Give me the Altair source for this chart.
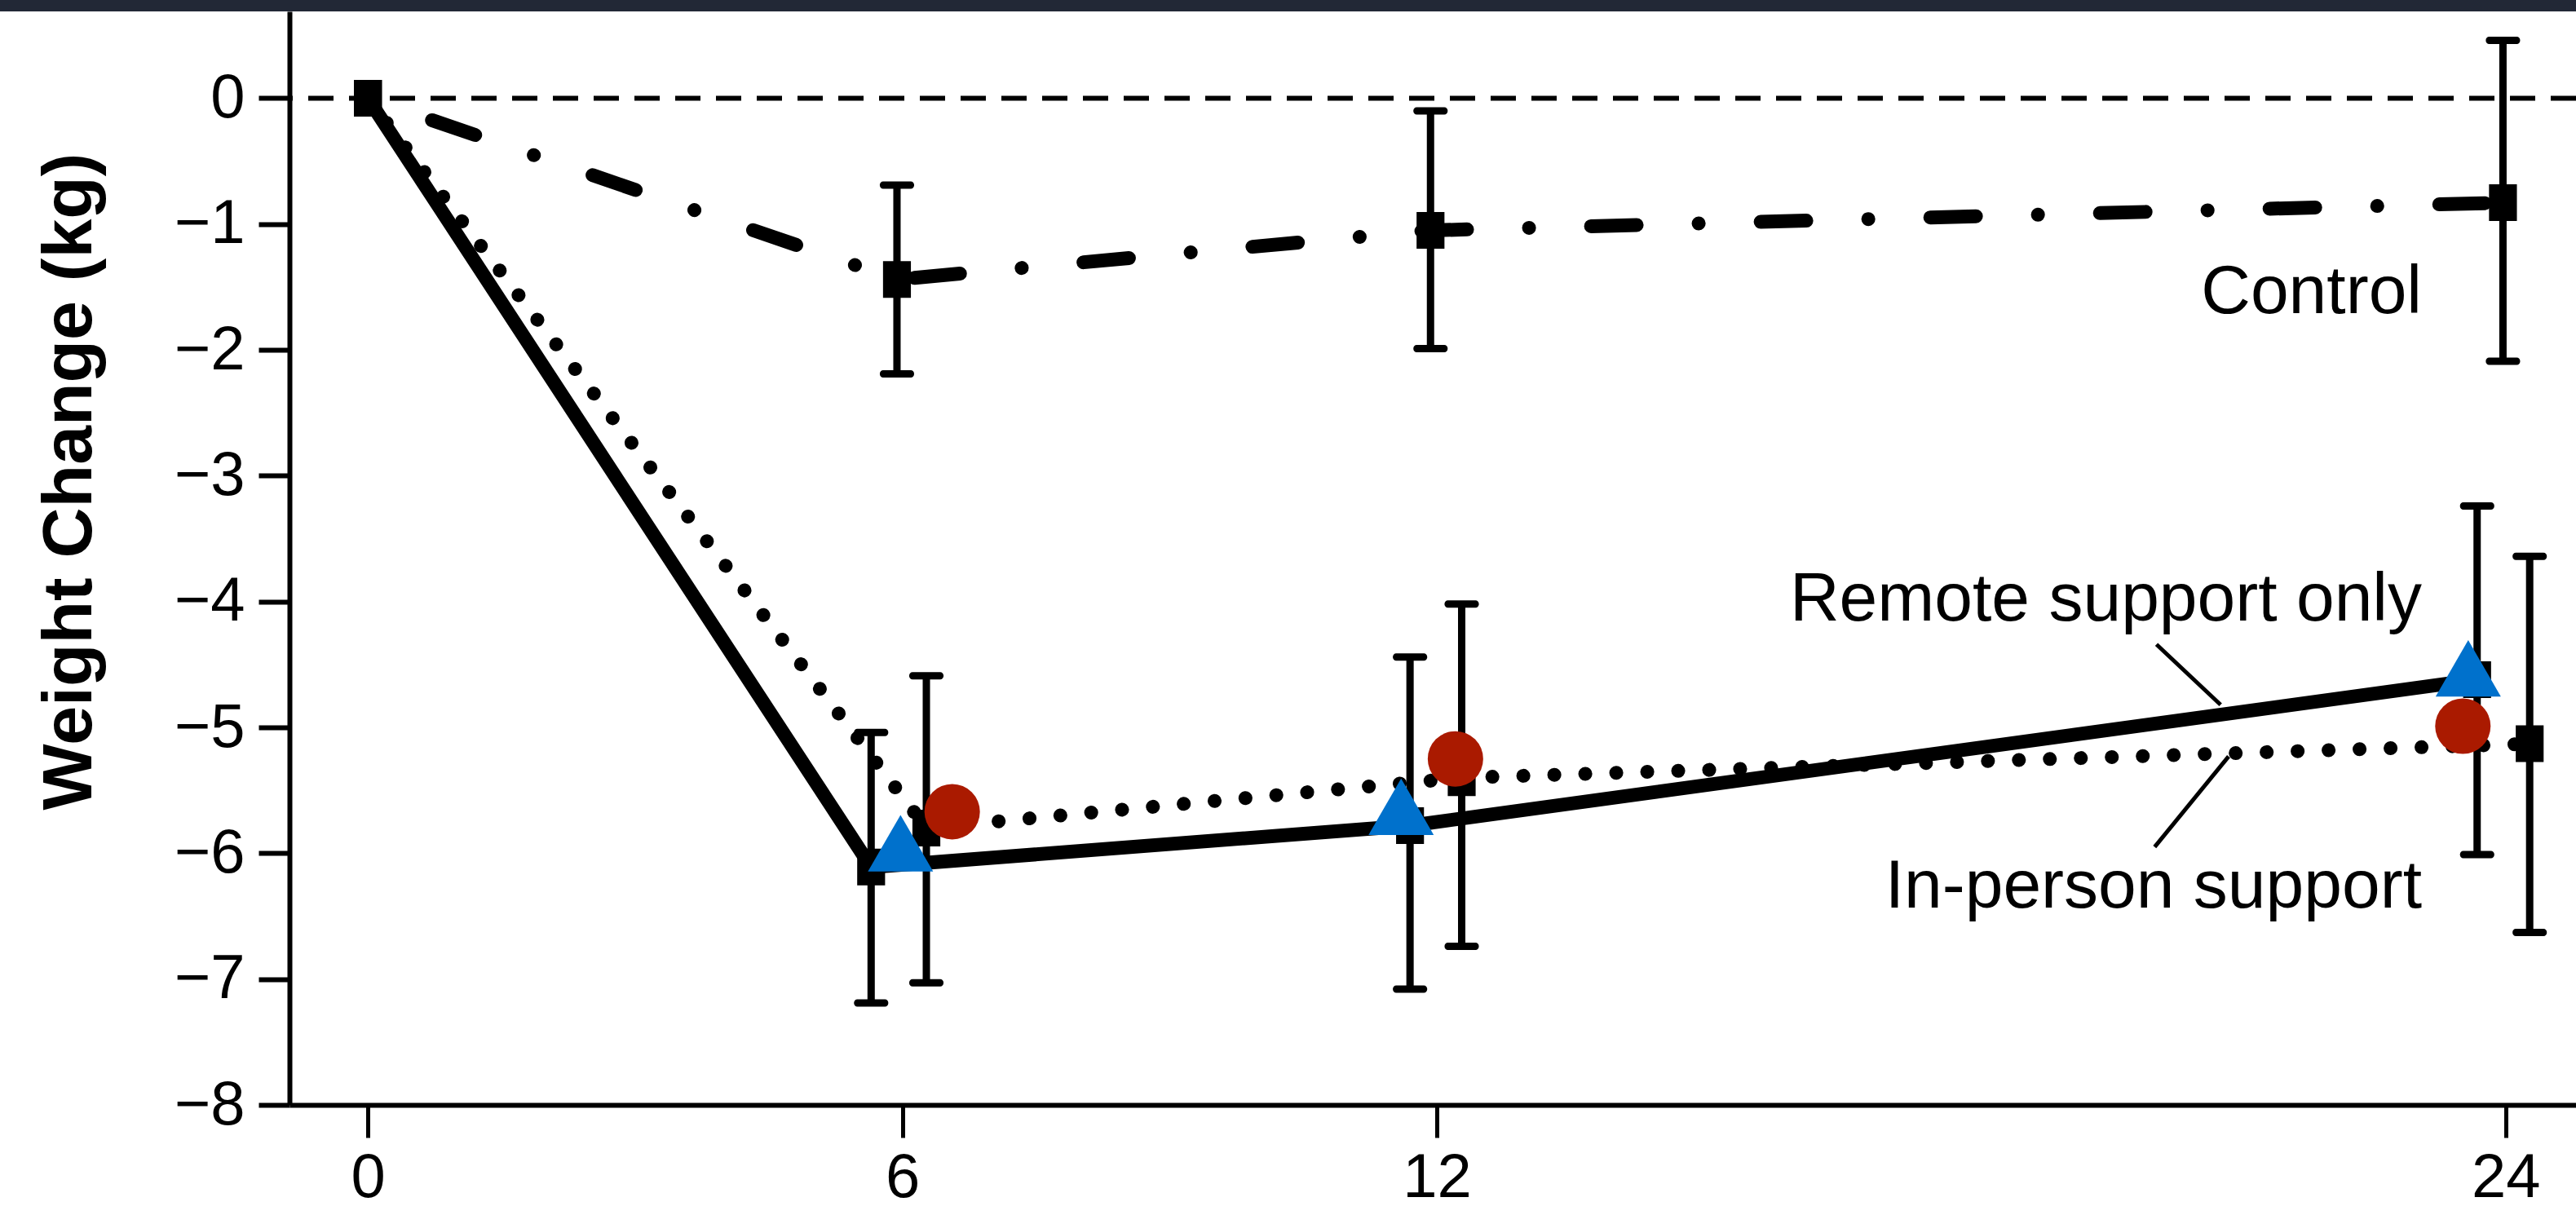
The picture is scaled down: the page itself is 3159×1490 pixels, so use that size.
import altair as alt
import pandas as pd

# ---------------- data ----------------
x_tick_values = [0, 6, 12, 24]
y_tick_values = [-8, -7, -6, -5, -4, -3, -2, -1, 0]

# Control (dash-dot line, black squares)
ctrl_x = [0, 5.94, 11.93, 23.97]
ctrl_mean = [0, -1.44, -1.05, -0.83]
ctrl_lo = [None, -2.19, -1.99, -2.09]
ctrl_hi = [None, -0.69, -0.10, 0.46]

# Remote support only (solid line)
remote_x = [0, 5.65, 11.70, 23.68]
remote_mean = [0, -6.11, -5.78, -4.62]
remote_lo = [None, -7.19, -7.08, -6.01]
remote_hi = [None, -5.04, -4.44, -3.24]

# In-person support (dotted line)
inperson_x = [0, 6.27, 12.28, 24.27]
inperson_mean = [0, -5.80, -5.40, -5.13]
inperson_lo = [None, -7.03, -6.74, -6.63]
inperson_hi = [None, -4.59, -4.02, -3.64]

# Overlaid coloured markers
tri_x = [5.98, 11.60, 23.58]
tri_y = [-5.92, -5.63, -4.53]
circ_x = [6.56, 12.21, 23.52]
circ_y = [-5.67, -5.25, -4.99]

# Annotations
label_text = ["Control", "Remote support only", "In-person support"]
label_x = [23.06, 23.06, 23.06]
label_y = [-1.71, -4.15, -6.43]

leader_x = [20.08, 20.89]
leader_y = [-4.34, -5.23]
leader_x2 = [20.80, 20.06]
leader_y2 = [-4.82, -5.95]

# ---------------- tables ----------------
def series_df(name, xs, ms, los, his):
    return pd.DataFrame({"series": name, "x": xs, "y": ms, "lo": los, "hi": his,
                         "order": list(range(len(xs)))})

ctrl_df = series_df("Control", ctrl_x, ctrl_mean, ctrl_lo, ctrl_hi)
remote_df = series_df("Remote", remote_x, remote_mean, remote_lo, remote_hi)
inperson_df = series_df("In-person", inperson_x, inperson_mean, inperson_lo, inperson_hi)
all_df = pd.concat([ctrl_df, remote_df, inperson_df], ignore_index=True)
err_df = all_df.dropna(subset=["lo", "hi"])

tri_df = pd.DataFrame({"x": tri_x, "y": tri_y})
circ_df = pd.DataFrame({"x": circ_x, "y": circ_y})
label_df = pd.DataFrame({"text": label_text, "x": label_x, "y": label_y})
leader_df = pd.DataFrame({"x": leader_x, "y": leader_y, "x2": leader_x2, "y2": leader_y2})

X_DOMAIN = [-0.88, 24.79]
Y_DOMAIN = [-8, 0.69]
FONT = "Liberation Sans, Arial, sans-serif"

xs = alt.Scale(domain=X_DOMAIN, nice=False, zero=False)
ys = alt.Scale(domain=Y_DOMAIN, nice=False, zero=False)

x_axis = alt.Axis(values=x_tick_values, format="d", title=None, grid=False, labelFont=FONT,
                  labelFontSize=76, labelColor="black", tickSize=40, tickWidth=5,
                  tickColor="black", domainWidth=6, domainColor="black", labelPadding=12,
                  labelFlush=False, labelOverlap=False)
y_axis = alt.Axis(values=y_tick_values, format="d", title="Weight Change (kg)", grid=False,
                  labelFont=FONT, labelFontSize=76, labelColor="black",
                  tickSize=38, tickWidth=6, tickColor="black", domainWidth=6,
                  domainColor="black", labelPadding=17, labelFlush=False,
                  labelOverlap=False, titleFont=FONT, titleFontSize=86,
                  titleFontWeight="bold", titleColor="black", titleAngle=270,
                  titleAlign="center", titleBaseline="middle", titleX=-270, titleY=576)

base_x = alt.X("x:Q", scale=xs, axis=x_axis)
base_y = alt.Y("y:Q", scale=ys, axis=y_axis)

# top dark band (decoration)
band = alt.Chart(pd.DataFrame({"a": [0]})).mark_rect(color="#222836").encode(
    x=alt.value(-355), x2=alt.value(2804), y=alt.value(-14), y2=alt.value(0))

zero_line = alt.Chart(pd.DataFrame({"y": [0]})).mark_rule(
    color="black", strokeWidth=6, strokeDash=[31, 19]).encode(y=alt.Y("y:Q", scale=ys))

ctrl_line = alt.Chart(ctrl_df).mark_line(
    color="black", strokeWidth=17, strokeCap="round", strokeDash=[56, 76, 0.1, 76],
    strokeDashOffset=125
).encode(x=base_x, y=base_y, order="order:Q")

remote_line = alt.Chart(remote_df).mark_line(
    color="black", strokeWidth=17, strokeCap="butt", strokeJoin="miter"
).encode(x=alt.X("x:Q", scale=xs), y=alt.Y("y:Q", scale=ys), order="order:Q")

inperson_line = alt.Chart(inperson_df).mark_line(
    color="black", strokeWidth=17, strokeCap="round", strokeDash=[0.1, 37.9]
).encode(x=alt.X("x:Q", scale=xs), y=alt.Y("y:Q", scale=ys), order="order:Q")

err_rule = alt.Chart(err_df).mark_rule(color="black", strokeWidth=9).encode(
    x=alt.X("x:Q", scale=xs), y=alt.Y("lo:Q", scale=ys), y2="hi:Q")

err_cap_lo = alt.Chart(err_df).mark_tick(
    color="black", orient="horizontal", size=42, thickness=9, cornerRadius=4, opacity=1
).encode(x=alt.X("x:Q", scale=xs), y=alt.Y("lo:Q", scale=ys))

err_cap_hi = alt.Chart(err_df).mark_tick(
    color="black", orient="horizontal", size=42, thickness=9, cornerRadius=4, opacity=1
).encode(x=alt.X("x:Q", scale=xs), y=alt.Y("hi:Q", scale=ys))

squares = alt.Chart(all_df).mark_point(
    shape="M-0.76,-1H0.76V1H-0.76Z", size=2025, filled=True, color="black", opacity=1
).encode(x=alt.X("x:Q", scale=xs), y=alt.Y("y:Q", scale=ys))

triangles = alt.Chart(tri_df).mark_point(
    shape="triangle-up", size=6400, filled=True, color="#0071CC", opacity=1
).encode(x=alt.X("x:Q", scale=xs), y=alt.Y("y:Q", scale=ys))

circles = alt.Chart(circ_df).mark_point(
    shape="circle", size=4624, filled=True, color="#AA1A00", opacity=1
).encode(x=alt.X("x:Q", scale=xs), y=alt.Y("y:Q", scale=ys))

labels = alt.Chart(label_df).mark_text(
    align="right", baseline="alphabetic", font=FONT, fontSize=84, color="black"
).encode(x=alt.X("x:Q", scale=xs), y=alt.Y("y:Q", scale=ys), text="text:N")

leaders = alt.Chart(leader_df).mark_rule(color="black", strokeWidth=5).encode(
    x=alt.X("x:Q", scale=xs), y=alt.Y("y:Q", scale=ys), x2="x2:Q", y2="y2:Q")

chart = alt.layer(
    band, zero_line, ctrl_line, remote_line, inperson_line,
    err_rule, err_cap_lo, err_cap_hi, squares, triangles, circles, labels, leaders
).properties(
    width=2804, height=1341,
    padding={"left": 355, "top": 14, "right": 0, "bottom": 135},
    autosize=alt.AutoSizeParams(type="none"),
    background="white",
).configure_view(stroke=None)

chart.save("out.html", embed_options={"renderer": "svg", "actions": False})
